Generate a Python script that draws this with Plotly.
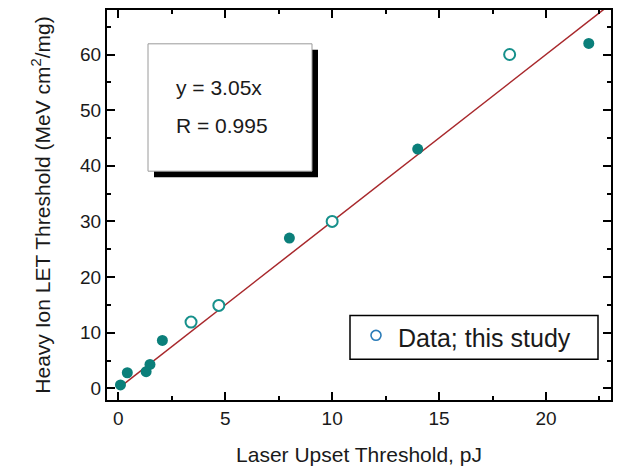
import plotly.graph_objects as go

# ---- data ----
filled_x = [0.1, 0.42, 1.3, 1.48, 2.06, 8.0, 14.0, 22.0]
filled_y = [0.6, 2.8, 3.0, 4.3, 8.6, 27.0, 43.0, 62.0]
study_x = [3.4, 4.7, 10.0, 18.3]
study_y = [11.9, 14.9, 30.0, 60.0]
fit_x = [0.0, 23.0]
fit_y = [0.0, 69.0]
fit_label = "y = 3.05x"
r_label = "R = 0.995"
legend_label = "Data; this study"
x_title = "Laser Upset Threshold, pJ"
y_title = "Heavy Ion LET Threshold (MeV cm<sup>2</sup>/mg)"

# ---- layout constants ----
W, H = 628, 476
L, R, T, B = 107, 611, 8, 400
FONT = "Liberation Sans, Arial, sans-serif"
TEAL = "#0b7f7a"
TEAL_OPEN = "#16908b"
RED = "#a8282c"
BLUE = "#2b7cb8"


def px(p):
    return (p - L) / (R - L)


def py(p):
    return (B - p) / (B - T)


fig = go.Figure()
fig.add_trace(go.Scatter(x=fit_x, y=fit_y, mode="lines",
                         line=dict(color=RED, width=1.5), showlegend=False,
                         hoverinfo="skip"))
fig.add_trace(go.Scatter(x=filled_x, y=filled_y, mode="markers",
                         marker=dict(color=TEAL, size=11, symbol="circle",
                                     line=dict(width=0)),
                         showlegend=False))
fig.add_trace(go.Scatter(x=study_x, y=study_y, mode="markers",
                         marker=dict(color="white", size=11, symbol="circle",
                                     line=dict(color=TEAL_OPEN, width=2)),
                         showlegend=False, name=legend_label))

axis_common = dict(
    showgrid=False, zeroline=False, showline=True, linecolor="black",
    linewidth=2, mirror="allticks", ticks="inside", ticklen=8, tickwidth=2,
    tickcolor="black", tickfont=dict(family=FONT, size=19, color="#1a1a1a"),
)

fig.update_xaxes(range=[-0.53, 23.04], tick0=0, dtick=5,
                 minor=dict(dtick=2.5, ticks="inside", ticklen=4, tickwidth=2,
                            tickcolor="black"),
                 title=dict(text=x_title, standoff=20,
                            font=dict(family=FONT, size=21, color="#1a1a1a")),
                 **axis_common)
fig.update_yaxes(range=[-2.1, 68.0], tick0=0, dtick=10,
                 minor=dict(dtick=5, ticks="inside", ticklen=4, tickwidth=2,
                            tickcolor="black"),
                 title=dict(text=y_title, standoff=24,
                            font=dict(family=FONT, size=21, color="#1a1a1a")),
                 **axis_common)

shapes = [
    # shadow of fit box
    dict(type="rect", xref="paper", yref="paper", x0=px(154), x1=px(318),
         y0=py(176), y1=py(48), fillcolor="black", line=dict(width=0)),
    # fit box
    dict(type="rect", xref="paper", yref="paper", x0=px(148), x1=px(312),
         y0=py(170), y1=py(42), fillcolor="white",
         line=dict(color="#9a9a9a", width=1)),
    # legend box
    dict(type="rect", xref="paper", yref="paper", x0=px(350), x1=px(598),
         y0=py(359), y1=py(315), fillcolor="white",
         line=dict(color="black", width=1.5)),
    # legend marker
    dict(type="circle", xref="paper", yref="paper", x0=px(371), x1=px(381),
         y0=py(340), y1=py(330), fillcolor="white",
         line=dict(color=BLUE, width=1.6)),
]

annotations = [
    dict(text=fit_label, xref="paper", yref="paper", x=px(174), y=py(86),
         xanchor="left", yanchor="middle", showarrow=False,
         font=dict(family=FONT, size=21, color="#1a1a1a")),
    dict(text=r_label, xref="paper", yref="paper", x=px(174), y=py(124),
         xanchor="left", yanchor="middle", showarrow=False,
         font=dict(family=FONT, size=21, color="#1a1a1a")),
    dict(text=legend_label, xref="paper", yref="paper", x=px(396), y=py(338),
         xanchor="left", yanchor="middle", showarrow=False,
         font=dict(family=FONT, size=25, color="#1a1a1a")),
]

fig.update_layout(
    width=W, height=H,
    margin=dict(l=L, r=W - R, t=T, b=H - B),
    paper_bgcolor="white", plot_bgcolor="white",
    showlegend=False, shapes=shapes, annotations=annotations,
    font=dict(family=FONT),
)

fig.write_html("out.html")
